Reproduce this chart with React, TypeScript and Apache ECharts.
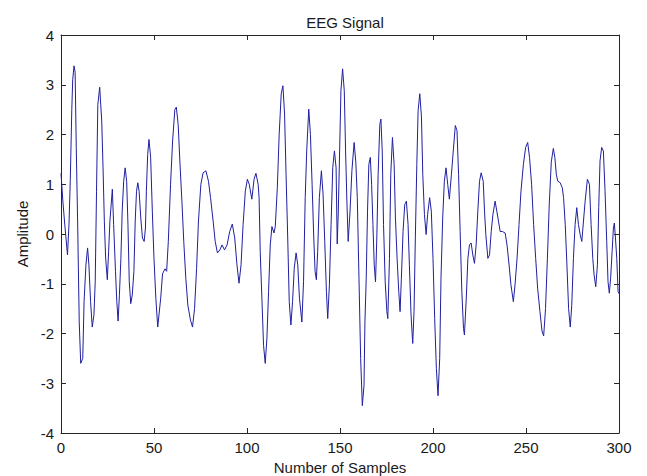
import React, { useEffect, useRef } from "react";
import * as echarts from "echarts";

const titleText = "EEG Signal";
const xAxisTitle = "Number of Samples";
const yAxisTitle = "Amplitude";
const xTicks = { min: 0, max: 300, interval: 50 };
const yTicks = { min: -4, max: 4, interval: 1 };

const sampleIndex = [
  0, 1, 2, 3.5, 4.3, 5, 5.8, 6.3, 7, 7.6, 8.2, 9, 9.8, 10.6, 11.7, 12.4, 13.4, 14.3, 15, 15.9,
  16.8, 17.7, 18.4, 19.1, 19.8, 20.8, 21.9, 22.6, 23.3, 24, 24.9, 25.6, 26.3, 27.6, 28.3, 29.3,
  30, 30.7, 31.4, 32.2, 32.9, 33.7, 34.5, 35.3, 36, 36.7, 37.5, 38.3, 39.2, 39.9, 40.6, 41.3,
  42, 42.9, 43.8, 44.7, 45.4, 45.9, 46.6, 47.3, 48.2, 49.1, 50, 51, 52, 53.6, 54.6, 55.9, 56.8,
  57.7, 58.9, 60, 61.2, 62, 63, 63.9, 65, 66, 67.1, 68.2, 69.6, 70.7, 71.8, 72.9, 73.9, 75.2,
  76.4, 77.9, 79.3, 80.4, 81.8, 82.9, 84.1, 85.4, 86.6, 87.9, 89.3, 90.7, 92.1, 93.4, 94.6,
  95.7, 96.8, 97.9, 99.1, 100.2, 101.2, 102.6, 103.8, 104.8, 106, 106.5, 107.1, 108, 108.9,
  109.8, 110.7, 111.6, 112.5, 113.4, 114.5, 115.2, 116.3, 117.3, 118.4, 119.3, 120.2, 121,
  121.9, 122.7, 123.6, 124.5, 125.4, 126.4, 127.3, 128.2, 129.5, 130.4, 131.3, 132.1, 133.2,
  134.1, 135, 135.9, 136.6, 137.3, 138, 138.9, 140, 140.9, 141.8, 142.7, 143.4, 144.3, 145.2,
  146.1, 147, 147.9, 148.5, 149.1, 149.8, 150.5, 151.4, 152.3, 153, 153.7, 154.4, 155.4, 156.4,
  157.6, 158.5, 159.3, 160.2, 161.1, 162, 162.9, 163.4, 164.1, 164.8, 165.5, 166.3, 167, 167.7,
  168.4, 169.1, 169.8, 170.5, 171.4, 172, 172.7, 173.4, 174.3, 175.2, 175.7, 176.6, 177.3,
  178.2, 179.1, 179.8, 180.7, 181.6, 182.3, 183, 183.9, 184.8, 185.7, 186.6, 187.3, 188.2,
  189.1, 189.8, 190.5, 191.3, 192, 192.9, 193.8, 194.5, 195.4, 196.3, 197.1, 198.2, 199.1, 200,
  200.9, 201.8, 202.7, 203.6, 204.3, 205.2, 206.1, 207, 207.9, 208.8, 209.9, 210.9, 212, 212.9,
  213.75, 214.6, 215.5, 216.4, 216.9, 217.9, 218.75, 219.6, 220.5, 221.4, 222.3, 223.2, 224.1,
  225, 225.9, 227, 227.7, 228.4, 229.5, 230.4, 231.3, 232.2, 233.4, 234.3, 235.2, 236.1, 237.3,
  238.8, 239.8, 240.9, 241.9, 243.2, 244.1, 245.2, 246.25, 247.3, 248.6, 249.8, 250.9, 251.9,
  253, 254.1, 255.2, 256.25, 257.5, 258.6, 259.5, 260.5, 261.5, 262.5, 263.6, 264.7, 265.5,
  266.3, 267.1, 268.4, 269.5, 270.2, 271.1, 272, 272.9, 273.8, 274.6, 275.5, 276.4, 277.3,
  278.2, 279.1, 280, 280.9, 281.8, 283, 284.1, 285, 285.9, 286.6, 287.5, 288.4, 289.1, 289.8,
  290.7, 291.6, 292.5, 293.4, 294.1, 294.8, 295.5, 296.3, 297, 297.5, 298.1, 298.8, 299.5, 300,
];

const amplitude = [
  1.22, 0.66, 0.2, -0.42, 0.2, 1.1, 2.5, 3.1, 3.38, 3.25, 1.74, 0.12, -1.77, -2.6, -2.5, -1.36,
  -0.62, -0.28, -0.62, -1.36, -1.87, -1.63, -0.96, 0.86, 2.6, 2.95, 2.27, 1.33, 0.26, -0.48,
  -0.92, -0.35, 0.26, 0.9, 0.19, -0.75, -1.36, -1.75, -1.23, -0.49, 0.46, 1.06, 1.33, 1.06,
  0.19, -0.96, -1.4, -1.23, -0.75, 0.26, 0.86, 1.03, 0.86, 0.32, -0.08, -0.15, 0.12, 0.86, 1.6,
  1.9, 1.54, 0.46, -0.5, -1.3, -1.87, -1.29, -0.8, -0.7, -0.75, -0.15, 1.0, 1.87, 2.5, 2.55,
  2.2, 1.47, 0.66, -0.15, -0.89, -1.43, -1.73, -1.87, -1.5, -0.69, 0.26, 1.0, 1.23, 1.27, 1.06,
  0.73, 0.26, -0.15, -0.38, -0.32, -0.22, -0.32, -0.22, 0.05, 0.2, -0.08, -0.62, -0.99, -0.62,
  0.19, 0.86, 1.1, 1.0, 0.7, 1.1, 1.22, 1.0, 0.73, -0.35, -1.29, -2.24, -2.6, -2.1, -1.16,
  -0.22, 0.15, 0.02, 0.15, 0.93, 2.0, 2.82, 2.98, 2.41, 1.2, -0.08, -1.36, -1.83, -1.36, -0.69,
  -0.38, -0.62, -1.29, -1.77, -0.96, 0.73, 1.67, 2.51, 2.0, 1.0, -0.08, -0.75, -0.92, -0.35,
  0.73, 1.27, 0.8, -0.15, -1.16, -1.7, -1.02, 0.19, 1.33, 1.67, 1.33, -0.2, 0.46, 1.67, 2.88,
  3.32, 2.88, 1.67, 0.66, -0.15, 0.46, 1.27, 1.84, 1.45, 0.73, -0.89, -2.5, -3.45, -3.05, -1.77,
  -0.89, 0.46, 1.4, 1.54, 1.0, 0.19, -0.62, -0.96, -0.08, 1.2, 2.2, 2.31, 1.67, 0.19, -0.96,
  -1.56, -1.7, -0.49, 1.2, 1.94, 1.4, 0.32, -0.49, -1.16, -1.56, -0.89, 0.05, 0.59, 0.66, 0.19,
  -0.62, -1.63, -2.2, -1.56, -0.08, 1.4, 2.48, 2.82, 2.35, 1.2, 0.39, -0.01, 0.39, 0.73, 0.46,
  -0.49, -1.7, -2.7, -3.25, -2.5, -0.89, 0.32, 1.06, 1.33, 1.0, 0.7, 1.2, 1.67, 2.18, 2.08, 1.2,
  0.05, -1.16, -1.9, -2.03, -1.29, -0.49, -0.22, -0.18, -0.42, -0.59, -0.22, 0.46, 1.06, 1.23,
  1.06, 0.46, -0.01, -0.49, -0.42, 0.05, 0.39, 0.66, 0.46, 0.26, 0.05, 0.05, 0.02, -0.22,
  -0.62, -1.02, -1.36, -1.02, -0.49, 0.19, 0.86, 1.4, 1.74, 1.84, 1.54, 1.0, 0.19, -0.49,
  -1.09, -1.56, -1.95, -2.05, -1.5, -0.5, 0.6, 1.45, 1.72, 1.54, 1.2, 1.06, 1.03, 0.93, 0.73,
  0.19, -0.62, -1.5, -1.87, -1.43, -0.49, 0.19, 0.53, 0.19, -0.01, -0.15, 0.26, 0.66, 1.1, 1.0,
  0.19, -0.49, -0.82, -1.06, -0.62, 0.53, 1.47, 1.74, 1.67, 0.86, -0.15, -0.96, -1.19, -0.89,
  -0.35, 0.12, 0.22, -0.08, -0.49, -1.16, -1.2,
];

const FONT = "'Liberation Sans', Arial, Helvetica, sans-serif";
const AXIS_COLOR = "#262626";
const LINE_COLOR = "#1f1fa0";

export default function App() {
  const ref = useRef<HTMLDivElement>(null);

  useEffect(() => {
    document.body.style.margin = "0";
    if (!ref.current) return;
    const chart = echarts.init(ref.current, undefined, { renderer: "svg" });

    const points = sampleIndex.map((s, i) => [s, amplitude[i]]);

    const axisLine = { show: true, onZero: false, lineStyle: { color: AXIS_COLOR, width: 1 } };
    const tick = { show: true, inside: true, length: 5, lineStyle: { color: AXIS_COLOR, width: 1 } };
    const labelStyle = { color: "#1a1a1a", fontFamily: FONT, fontSize: 15 };

    chart.setOption({
      animation: false,
      backgroundColor: "#ffffff",
      title: {
        text: titleText,
        left: 340,
        top: 10,
        textAlign: "center",
        textStyle: { color: "#1a1a1a", fontFamily: FONT, fontSize: 15, fontWeight: "normal" },
      },
      grid: {
        left: 61,
        right: 28,
        top: 35,
        bottom: 43,
        containLabel: false,
        outerBoundsMode: "none",
        show: false,
      },
      xAxis: [
        {
          type: "value",
          position: "bottom",
          min: xTicks.min,
          max: xTicks.max,
          interval: xTicks.interval,
          name: xAxisTitle,
          nameLocation: "middle",
          nameGap: 24,
          nameTextStyle: labelStyle,
          axisLine,
          axisTick: tick,
          axisLabel: { ...labelStyle, margin: 7 },
          splitLine: { show: false },
        },
        {
          type: "value",
          position: "top",
          min: xTicks.min,
          max: xTicks.max,
          interval: xTicks.interval,
          axisLine,
          axisTick: tick,
          axisLabel: { show: false },
          splitLine: { show: false },
        },
      ],
      yAxis: [
        {
          type: "value",
          position: "left",
          min: yTicks.min,
          max: yTicks.max,
          interval: yTicks.interval,
          name: yAxisTitle,
          nameLocation: "middle",
          nameGap: 31,
          nameTextStyle: labelStyle,
          axisLine,
          axisTick: tick,
          axisLabel: { ...labelStyle, margin: 7 },
          splitLine: { show: false },
        },
        {
          type: "value",
          position: "right",
          min: yTicks.min,
          max: yTicks.max,
          interval: yTicks.interval,
          axisLine,
          axisTick: tick,
          axisLabel: { show: false },
          splitLine: { show: false },
        },
      ],
      series: [
        {
          type: "line",
          xAxisIndex: 0,
          yAxisIndex: 0,
          data: points,
          showSymbol: false,
          symbol: "none",
          smooth: false,
          lineStyle: { color: LINE_COLOR, width: 1 },
        },
      ],
    });

    return () => chart.dispose();
  }, []);

  return <div ref={ref} style={{ width: 647, height: 476 }} />;
}
